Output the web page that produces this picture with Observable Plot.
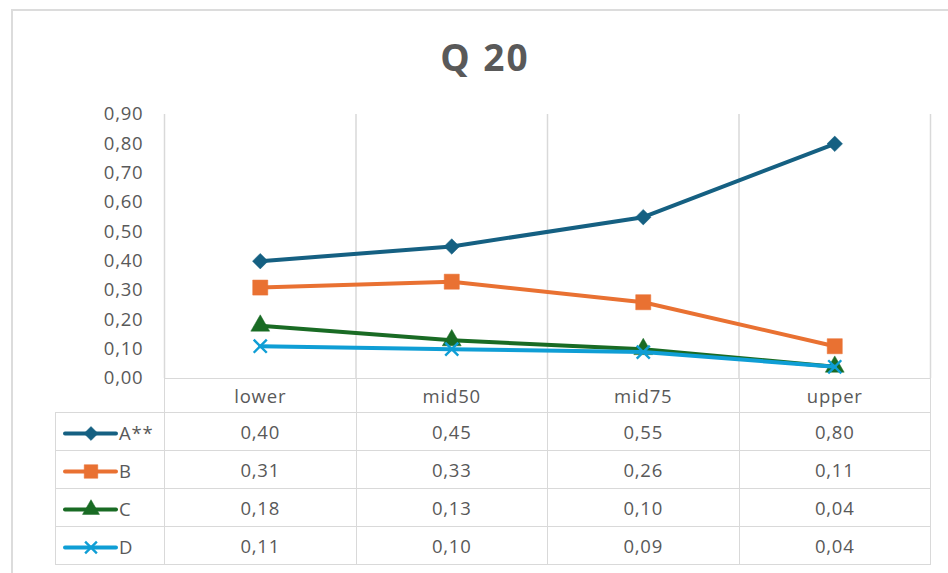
<!DOCTYPE html>
<html>
<head>
<meta charset="utf-8">
<script src="https://cdn.jsdelivr.net/npm/d3@7"></script>
<script src="https://cdn.jsdelivr.net/npm/@observablehq/plot@0.6"></script>
<style>
  html, body { margin: 0; padding: 0; width: 948px; height: 573px; overflow: hidden; background: #fff; font-family: "Open Sans", sans-serif; }
  #frame { position: absolute; left: 11px; top: 9px; width: 960px; height: 600px; border: 2px solid #dcdcdc; box-sizing: border-box; }
  #title { position: absolute; left: 12px; width: 946px; top: 28px; line-height: 58px; text-align: center; font-weight: bold; font-size: 37px; color: #595959; letter-spacing: 2px; }
  #chart { position: absolute; left: 0; top: 100px; z-index: 1; }
  #tbl { position: absolute; left: 55px; top: 378px; z-index: 2; border-collapse: collapse; table-layout: fixed; width: 875px; color: #595959; font-size: 18.5px; letter-spacing: 0.8px; background: transparent; }
  #tbl td { border: 1.5px solid #d9d9d9; padding: 0; text-align: center; height: 37px; }
  #tbl tr.head td { height: 33px; }
  #tbl tr.head td.blank { border: none; }
  #tbl td.key { text-align: left; padding-left: 7px; white-space: nowrap; }
  #tbl td.key svg { vertical-align: middle; display: inline-block; }
  #tbl td.key span { vertical-align: middle; margin-left: 1px; }
</style>
</head>
<body>
<div id="frame"></div>
<div id="title">Q 20</div>
<div id="chart"></div>
<table id="tbl"></table>
<script>
// ---- data ----
const categories = ["lower", "mid50", "mid75", "upper"];
const seriesNames = ["A**", "B", "C", "D"];
const valuesA = [0.40, 0.45, 0.55, 0.80];
const valuesB = [0.31, 0.33, 0.26, 0.11];
const valuesC = [0.18, 0.13, 0.10, 0.04];
const valuesD = [0.11, 0.10, 0.09, 0.04];
const seriesColors = ["#156082", "#E97132", "#196B24", "#0F9ED5"];
const seriesSymbols = ["diamond2", "square", "triangle", "times"];
const seriesR = [7, 8.5, 7, 6];

const allValues = [valuesA, valuesB, valuesC, valuesD];
const fmt = v => d3.format(".2f")(v).replace(".", ",");

const rows = [];
seriesNames.forEach((s, si) => {
  categories.forEach((c, ci) => rows.push({series: s, si, category: c, ci, value: allValues[si][ci]}));
});

const marks = [
  Plot.gridX({ticks: 4, stroke: "#d9d9d9", strokeOpacity: 1, strokeWidth: 1.5}),
  Plot.axisY({ticks: 10, tickSize: 0, tickPadding: 21, fontSize: 18.5, tickFormat: fmt, fill: "#595959", label: null})
];
seriesNames.forEach((s, si) => {
  const d = rows.filter(r => r.series === s);
  marks.push(Plot.line(d, {x: r => r.ci + 0.5, y: "value", stroke: seriesColors[si], strokeWidth: 4, strokeLinejoin: "round", strokeLinecap: "round"}));
  const isStroke = seriesSymbols[si] === "times";
  marks.push(Plot.dot(d, {
    x: r => r.ci + 0.5, y: "value", symbol: () => seriesSymbols[si], r: seriesR[si],
    fill: isStroke ? "none" : seriesColors[si],
    stroke: seriesColors[si], strokeWidth: isStroke ? 2.4 : 0.5
  }));
});

const chart = Plot.plot({
  width: 948, height: 300,
  marginTop: 14, marginBottom: 22, marginLeft: 164, marginRight: 18,
  style: {background: "transparent", fontFamily: "'Open Sans', sans-serif", color: "#595959", letterSpacing: "0.8px"},
  x: {domain: [0, categories.length], axis: null},
  y: {domain: [0, 0.9], label: null},
  symbol: {type: "identity"},
  marks
});
document.getElementById("chart").appendChild(chart);

// ---- data table ----
const tbl = document.getElementById("tbl");
const colgroup = document.createElement("colgroup");
colgroup.innerHTML = `<col style="width:109px">` + categories.map(() => `<col style="width:191.5px">`).join("");
tbl.appendChild(colgroup);

const head = document.createElement("tr");
head.className = "head";
head.innerHTML = `<td class="blank"></td>` + categories.map(c => `<td>${c}</td>`).join("");
tbl.appendChild(head);

seriesNames.forEach((s, si) => {
  const tr = document.createElement("tr");
  const keyTd = document.createElement("td");
  keyTd.className = "key";
  const isStroke = seriesSymbols[si] === "times";
  const key = Plot.plot({
    width: 55, height: 22, margin: 0,
    style: {background: "transparent"},
    x: {axis: null}, y: {axis: null, domain: [-1, 1]},
    symbol: {type: "identity"},
    marks: [
      Plot.ruleY([0], {stroke: seriesColors[si], strokeWidth: 4, strokeLinecap: "round", insetLeft: 2, insetRight: 2}),
      Plot.dot([s], {frameAnchor: "middle", symbol: () => seriesSymbols[si], r: seriesR[si] * 0.9,
        fill: isStroke ? "none" : seriesColors[si], stroke: seriesColors[si], strokeWidth: isStroke ? 2.4 : 0.5})
    ]
  });
  keyTd.appendChild(key);
  const lab = document.createElement("span");
  lab.textContent = s;
  keyTd.appendChild(lab);
  tr.appendChild(keyTd);
  allValues[si].forEach(v => {
    const td = document.createElement("td");
    td.textContent = fmt(v);
    tr.appendChild(td);
  });
  tbl.appendChild(tr);
});
</script>
</body>
</html>
